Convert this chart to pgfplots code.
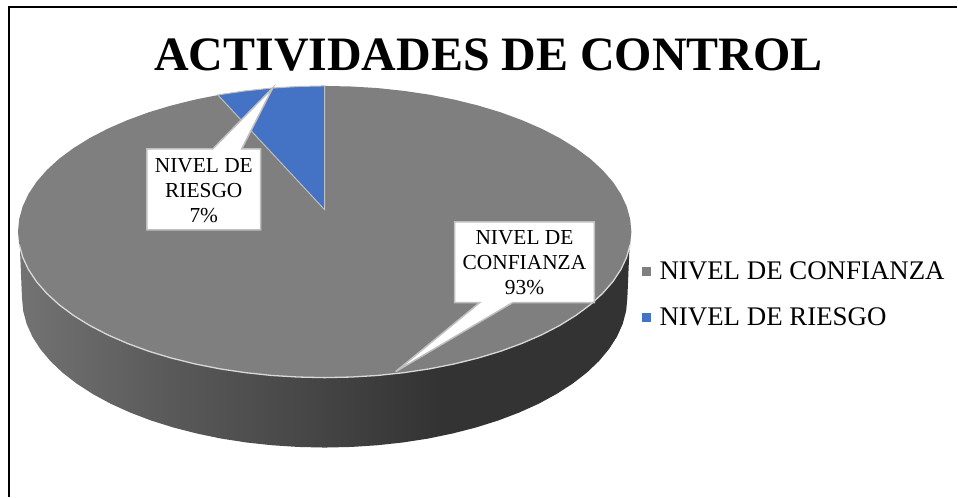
\documentclass[border=0pt]{standalone}
\usepackage{pgfplots}
\usepackage{fontspec}
\setmainfont{Liberation Serif}
\pgfplotsset{compat=1.18}
\definecolor{piegrey}{HTML}{7F7F7F}
\definecolor{pieblue}{HTML}{4472C4}
\definecolor{calloutedge}{HTML}{BFBFBF}
\definecolor{rimedge}{HTML}{D9D9D9}
\pgfdeclarehorizontalshading{sideshade}{100bp}{
 color(0bp)=(black!55!white);
 color(25bp)=(black!55!white);
 color(37.3bp)=(black!65!white);
 color(48bp)=(black!72!white);
 color(59.4bp)=(black!80!white);
 color(75bp)=(black!80!white);
 color(100bp)=(black!80!white)}
\begin{document}
\begin{tikzpicture}
\begin{axis}[
  scale only axis, width=958pt, height=497pt,
  xmin=0, xmax=958, ymin=0, ymax=497, y dir=reverse,
  hide axis, clip=false,
  legend style={at={(axis cs:643.2,260)}, anchor=north west, draw=none, fill=none,
    font=\fontsize{26.9}{30}\selectfont, row sep=22.3pt, inner sep=0pt, outer sep=0pt,
    /tikz/every odd column/.append style={column sep=7pt}},
  legend cell align=left,
]
% page background
\addplot[draw=none, fill=white, forget plot] coordinates {(0,0)(958,0)(958,497)(0,497)} --cycle;
% frame
\addplot[black, line width=1.9pt, forget plot] coordinates {(8.7,497)(8.7,6.7)(958,6.7)};
% side wall
\addplot[draw=none, shading=sideshade, forget plot] coordinates {
(630,250)(628,298)(626.8,311.1)(623.4,324)(617.7,336.8)(609.7,349.3)(599.6,361.4)(587.4,373)(573.2,384)(557.1,394.4)(539.3,404.1)(519.8,412.9)(498.8,420.9)(476.5,427.9)(453.1,433.9)(428.6,439)(403.4,442.9)(377.6,445.7)(351.4,447.4)(325,448)
(298.6,447.4)(272.4,445.7)(246.6,442.9)(221.4,439)(196.9,433.9)(173.5,427.9)(151.2,420.9)(130.2,412.9)(110.7,404.1)(92.9,394.4)(76.8,384)(62.6,373)(50.4,361.4)(40.3,349.3)(32.3,336.8)(26.6,324)(23.2,311.1)(22,298)(20,250)} --cycle;
% top face: NIVEL DE CONFIANZA 93%
\addplot[draw=none, fill=piegrey, forget plot] coordinates {
(632,232)(630.8,244.7)(627.3,257.4)(621.5,269.8)(613.5,281.9)(603.2,293.7)(590.9,305)(576.5,315.7)(560.2,325.8)(542.1,335.2)(522.3,343.8)(501.1,351.6)(478.5,358.4)(454.7,364.3)(430,369.2)(404.5,373)(378.3,375.8)(351.8,377.4)(325,378)
(298.2,377.4)(271.7,375.8)(245.5,373)(220,369.2)(195.3,364.3)(171.5,358.4)(148.9,351.6)(127.7,343.8)(107.9,335.2)(89.8,325.8)(73.5,315.7)(59.1,305)(46.8,293.7)(36.5,281.9)(28.5,269.8)(22.7,257.4)(19.2,244.7)(18,232)
(19.2,219.3)(22.7,206.6)(28.5,194.2)(36.5,182.1)(46.8,170.3)(59.1,159)(73.5,148.3)(89.8,138.2)(107.9,128.8)(127.7,120.2)(148.9,112.4)(171.5,105.6)(195.3,99.7)(220,94.8)(245.5,91)(271.7,88.2)(298.2,86.6)(325,86)
(351.8,86.6)(378.3,88.2)(404.5,91)(430,94.8)(454.7,99.7)(478.5,105.6)(501.1,112.4)(522.3,120.2)(542.1,128.8)(560.2,138.2)(576.5,148.3)(590.9,159)(603.2,170.3)(613.5,182.1)(621.5,194.2)(627.3,206.6)(630.8,219.3)} --cycle;
% light rim along the front edge
\addplot[rimedge, line width=1.3pt, forget plot] coordinates {
(630.8,244.7)(627.3,257.4)(621.5,269.8)(613.5,281.9)(603.2,293.7)(590.9,305)(576.5,315.7)(560.2,325.8)(542.1,335.2)(522.3,343.8)(501.1,351.6)(478.5,358.4)(454.7,364.3)(430,369.2)(404.5,373)(378.3,375.8)(351.8,377.4)(325,378)
(298.2,377.4)(271.7,375.8)(245.5,373)(220,369.2)(195.3,364.3)(171.5,358.4)(148.9,351.6)(127.7,343.8)(107.9,335.2)(89.8,325.8)(73.5,315.7)(59.1,305)(46.8,293.7)(36.5,281.9)(28.5,269.8)(22.7,257.4)(19.2,244.7)};
% top face: NIVEL DE RIESGO 7%
\addplot[draw=calloutedge, line width=1pt, fill=pieblue, line join=round, forget plot] coordinates {
(325,210)(218,95)(245.5,91)(271.7,88.2)(298.2,86.6)(325,86)} --cycle;
% callouts
\addplot[draw=calloutedge, line width=1.5pt, fill=white, forget plot] coordinates {
(147,149)(213,149)(273,88)(242,149)(261,149)(261,230)(147,230)} --cycle;
\addplot[draw=calloutedge, line width=1.5pt, fill=white, forget plot] coordinates {
(455,222)(595,222)(595,303)(513,303)(396,372)(480,303)(455,303)} --cycle;
\node[align=center, inner sep=0pt, font=\fontsize{21.4}{25}\selectfont] at (axis cs:204,191) {NIVEL DE\\RIESGO\\7\%};
\node[align=center, inner sep=0pt, font=\fontsize{21.4}{25}\selectfont] at (axis cs:525,263) {NIVEL DE\\CONFIANZA\\93\%};
% title
\node[anchor=base, inner sep=0pt, font=\fontsize{48}{58}\selectfont\bfseries] at (axis cs:489,70.7) {ACTIVIDADES DE CONTROL};
% legend
\addlegendimage{only marks, mark=square*, mark size=4pt, color=piegrey}
\addlegendentry{NIVEL DE CONFIANZA}
\addlegendimage{only marks, mark=square*, mark size=4pt, color=pieblue}
\addlegendentry{NIVEL DE RIESGO}
\end{axis}
\end{tikzpicture}
\end{document}
